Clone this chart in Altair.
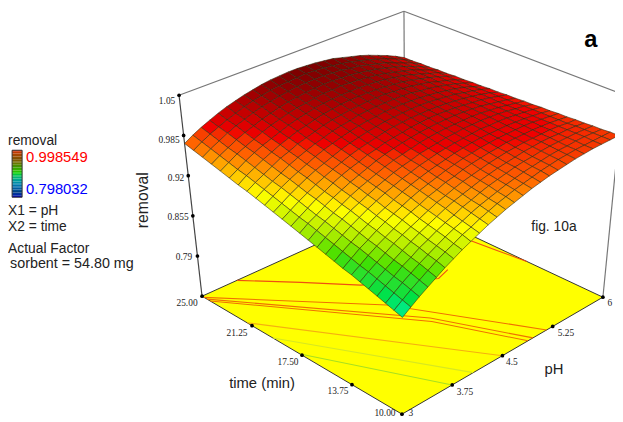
import altair as alt

# removal x 1000; rows = time 10 -> 25 min, columns = pH 3 -> 6
removal = [
 [874,883,892,900,908,916,923,930,936,942,948,953,958,962,966,970,973,976,978,980,982,983,984,984,984,984],
 [878,887,896,904,912,920,927,933,940,945,951,956,961,965,969,972,975,978,980,982,983,984,984,984,984,984],
 [882,891,900,908,916,923,930,937,943,948,954,959,963,967,971,974,977,979,981,983,984,984,985,985,984,983],
 [886,895,903,912,919,927,933,940,946,951,957,961,966,970,973,976,979,981,982,984,985,985,985,985,984,983],
 [890,899,907,915,923,930,937,943,949,955,960,964,968,972,975,978,980,982,984,985,986,986,985,985,984,982],
 [894,903,911,919,927,934,940,946,952,958,962,967,971,974,977,980,982,984,985,986,986,986,986,985,983,982],
 [898,906,915,923,930,937,944,950,955,961,965,970,973,977,980,982,984,985,987,987,987,987,986,985,983,981],
 [901,910,919,926,934,941,947,953,959,964,968,972,976,979,982,984,986,987,988,988,988,988,987,985,983,981],
 [905,914,922,930,937,944,950,956,962,967,971,975,978,981,984,986,988,989,989,989,989,988,987,985,983,980],
 [909,918,926,934,941,948,954,960,965,970,974,978,981,984,986,988,989,990,991,990,990,989,987,985,983,980],
 [913,922,930,938,945,951,957,963,968,973,977,980,984,986,988,990,991,992,992,992,991,990,988,985,983,979],
 [917,926,934,941,948,955,961,966,971,976,980,983,986,989,991,992,993,993,993,993,992,990,988,985,982,979],
 [921,930,937,945,952,958,964,969,974,979,983,986,989,991,993,994,995,995,995,994,993,991,988,985,982,978],
 [925,933,941,949,955,962,968,973,977,982,985,989,991,993,995,996,997,997,996,995,993,991,989,986,982,978],
 [929,937,945,952,959,965,971,976,981,985,988,991,994,996,997,998,998,998,997,996,994,992,989,986,982,977],
 [933,941,949,956,963,969,974,979,984,988,991,994,996,998,999,1000,1000,1000,999,997,995,993,989,986,982,977],
 [937,945,953,960,966,972,978,983,987,991,994,997,999,1000,1002,1002,1002,1001,1000,998,996,993,990,986,981,976],
 [941,949,956,963,970,976,981,986,990,994,997,999,1002,1003,1004,1004,1004,1003,1002,999,997,994,990,986,981,976],
 [945,953,960,967,974,979,985,989,993,997,1000,1002,1004,1005,1006,1006,1006,1004,1003,1001,998,995,990,986,981,975],
 [948,957,964,971,977,983,988,993,996,1000,1003,1005,1007,1008,1008,1008,1007,1006,1004,1002,999,995,991,986,981,975],
 [952,960,968,975,981,986,991,996,1000,1003,1006,1008,1009,1010,1010,1010,1009,1008,1006,1003,1000,996,991,986,981,974],
 [956,964,972,978,984,990,995,999,1003,1006,1008,1010,1012,1012,1013,1012,1011,1009,1007,1004,1000,996,992,986,980,974],
 [960,968,975,982,988,993,998,1002,1006,1009,1011,1013,1014,1015,1015,1014,1013,1011,1008,1005,1001,997,992,986,980,973],
 [964,972,979,986,992,997,1002,1006,1009,1012,1014,1016,1017,1017,1017,1016,1015,1012,1010,1006,1002,998,992,986,980,973],
 [968,976,983,989,995,1000,1005,1009,1012,1015,1017,1018,1019,1020,1019,1018,1016,1014,1011,1007,1003,998,993,987,980,972],
 [972,980,987,993,999,1004,1008,1012,1015,1018,1020,1021,1022,1022,1021,1020,1018,1016,1012,1008,1004,999,993,987,980,972],
]
W, H, PAD = 615, 414, 8
S = 623 / (W + 2 * PAD)   # page is photographed at the window's width
YOFF = 2.5
F = {"00": (402, 414), "10": (603, 297), "11": (405, 204), "01": (202, 296)}
T = {"00": (403, 203), "10": (623, 94), "11": (404, 11), "01": (179, 95)}
Z0, Z1 = 0.725, 1.05

def px(x, y):
    return [x / S - PAD, (y - YOFF) / S - PAD]

def bil(c, u, v):
    return [(1-u)*(1-v)*c["00"][k] + u*(1-v)*c["10"][k] + u*v*c["11"][k] + (1-u)*v*c["01"][k] for k in (0, 1)]

def proj(u, v, z=Z0):
    a, b = bil(F, u, v), bil(T, u, v)
    f = (z - Z0) / (Z1 - Z0)
    return px(a[0] + (b[0]-a[0])*f, a[1] + (b[1]-a[1])*f)

n_r, n_c = len(removal), len(removal[0])
cells = []
for j in range(n_r-2, -1, -1):
    for i in range(n_c-2, -1, -1):
        idx = [(i, j), (i+1, j), (i+1, j+1), (i, j+1), (i, j)]
        ring = [proj(a/(n_c-1), b/(n_r-1), removal[b][a]/1000) for a, b in idx]
        m = sum(removal[b][a] for a, b in idx[:4]) / 4000
        shade = m + 0.02 * (i+.5)/(n_c-1) * (j+.5)/(n_r-1)
        cells.append({"type": "Feature", "properties": {"z": shade}, "geometry": {"type": "Polygon", "coordinates": [ring]}})

identity = dict(type="identity", scale=1, translate=[0, 0])
surface = alt.Chart(alt.Data(values=cells)).mark_geoshape(stroke="#2a2a10", strokeWidth=0.7, strokeOpacity=0.8).encode(
    color=alt.Color("properties.z:Q", legend=None, scale=alt.Scale(
        domain=[.874, .89, .91, .93, .945, .96, .975, .99, 1.01, 1.03],
        range=["#00f0a0", "#00e040", "#40e000", "#c0f000", "#ffff00", "#ffb000", "#ff6000", "#f00000", "#b80000", "#800000"]))
).project(**identity)

floor_ring = [proj(*p) for p in [(0, 0), (1, 0), (1, 1), (0, 1), (0, 0)]]
floor = alt.Chart(alt.Data(values=[{"type": "Feature", "properties": {}, "geometry": {"type": "Polygon", "coordinates": [floor_ring]}}])).mark_geoshape(
    fill="#ffff00", stroke="#333333", strokeWidth=1).project(**identity)

contours = [
 ("a", "#a8e020", [(0, .51), (.25, 0)]),
 ("b", "#d8e820", [(0, .645), (.355, 0)]),
 ("c", "#f5b010", [(0, .775), (.5, 0)]),
 ("d", "#f07000", [(0, .99), (.45, .53), (.72, 0)]),
 ("e", "#f07000", [(0, .975), (.497, .36), (.652, 0)]),
 ("f", "#f07000", [(0, .96), (.485, .34), (.627, 0)]),
 ("g", "#f05010", [(.172, 1), (.335, .845), (.478, .69), (.706, .53), (.771, .55)]),
 ("h", "#f05010", [(.97, .65), (.985, .52), (1, .385)]),
]
c_rows = []
for name, col, pts in contours:
    for k, (u, v) in enumerate(pts):
        x, y = proj(u, v)
        c_rows.append({"n": name, "c": col, "k": k, "x": x, "y": y})
cline = alt.Chart(alt.Data(values=c_rows)).mark_line(strokeWidth=1.1).encode(
    x=alt.X("x:Q", scale=None, axis=None), y=alt.Y("y:Q", scale=None, axis=None),
    detail="n:N", order="k:Q", stroke=alt.Stroke("c:N", scale=None))

frame_def = [
 ("l", (0, 1, Z1), (0, 1, Z0), "#444444"), ("t1", (0, 1, Z1), (1, 1, Z1), "#777777"),
 ("t2", (1, 1, Z1), (1, 0, Z1), "#777777"), ("r", (1, 0, Z1), (1, 0, Z0), "#777777"),
 ("b", (1, 1, Z1), (1, 1, Z0), "#777777"),
]
f_rows = []
for name, p, q, col in frame_def:
    for k, a in enumerate((p, q)):
        x, y = proj(*a)
        f_rows.append({"n": name, "c": col, "k": k, "x": x, "y": y})
frame = alt.Chart(alt.Data(values=f_rows)).mark_line(strokeWidth=1.2).encode(
    x=alt.X("x:Q", scale=None, axis=None), y=alt.Y("y:Q", scale=None, axis=None),
    detail="n:N", order="k:Q", stroke=alt.Stroke("c:N", scale=None))

z_ticks = [1.05, .985, .92, .855, .79]
time_ticks = [25.00, 21.25, 17.50, 13.75, 10.00]
ph_ticks = [3.75, 4.5, 5.25, 6]
dots = [proj(0, 1, z) for z in z_ticks] + [proj(0, (t-10)/15) for t in time_ticks] + [proj((p-3)/3, 0) for p in ph_ticks]
dot = alt.Chart(alt.Data(values=[{"x": a, "y": b} for a, b in dots])).mark_circle(size=14, color="black", opacity=1).encode(
    x=alt.X("x:Q", scale=None, axis=None), y=alt.Y("y:Q", scale=None, axis=None))

def text_layer(rows, **kw):
    data = []
    for t, x, y in rows:
        a, b = px(x, y)
        data.append({"t": t, "x": a, "y": b})
    return alt.Chart(alt.Data(values=data)).mark_text(**kw).encode(
        x=alt.X("x:Q", scale=None, axis=None), y=alt.Y("y:Q", scale=None, axis=None), text="t:N")

tick_labels = text_layer([
 ("1.05", 167, 101), ("0.985", 169, 140), ("0.92", 176, 178), ("0.855", 178, 217), ("0.79", 184, 257),
 ("25.00", 187, 303), ("21.25", 237, 333), ("17.50", 288, 362), ("13.75", 338, 391), ("10.00", 385, 413),
 ("3", 411, 413), ("3.75", 465, 392), ("4.5", 512, 362), ("5.25", 566, 333), ("6", 610, 303),
], font="Liberation Serif", fontSize=9.5, color="#222222", align="center", baseline="middle")

sans = dict(font="Liberation Sans", color="#222222", baseline="middle")
axis_titles = text_layer([("time (min)", 262, 383), ("pH", 554, 369)], fontSize=15, align="center", **sans)
ztitle = text_layer([("removal", 143, 200)], fontSize=16, align="center", angle=270, **sans)
fig = text_layer([("fig. 10a", 554, 227)], fontSize=14, align="center", **sans)
letter = text_layer([("a", 591, 40)], fontSize=24, fontWeight="bold", align="center", font="Liberation Sans", color="black", baseline="middle")
legend_txt = text_layer([("removal", 8, 141), ("X1 =  pH", 8, 211), ("X2 =  time", 8, 227), ("Actual Factor", 8, 249)], fontSize=14, align="left", **sans)
legend_txt2 = text_layer([("sorbent = 54.80 mg", 10, 264)], fontSize=14.5, align="left", **sans)
hi = text_layer([("0.998549", 26, 157)], fontSize=15, align="left", font="Liberation Sans", color="#ff0000", baseline="middle")
lo = text_layer([("0.798032", 26, 189)], fontSize=15, align="left", font="Liberation Sans", color="#0000ff", baseline="middle")

# colour bar
bar_vals = [round(i/30, 4) for i in range(30)]
(bx0, by1), (bx1, by0) = px(12, 197), px(22, 150)
bar_rows = [{"v": v, "x": bx0, "x2": bx1, "y": by1 + (by0-by1)*v, "y2": by1 + (by0-by1)*(v+1/30)} for v in bar_vals]
bar = alt.Chart(alt.Data(values=bar_rows)).mark_rect().encode(
    x=alt.X("x:Q", scale=None, axis=None), x2="x2:Q", y=alt.Y("y:Q", scale=None, axis=None), y2="y2:Q",
    color=alt.Color("v:Q", legend=None, scale=alt.Scale(domain=[0, .1, .5, .65, .8, 1], range=["#0000b0", "#004080", "#00d000", "#409000", "#805000", "#e00000"])))
bar_box = alt.Chart(alt.Data(values=[{"x": bx0, "x2": bx1, "y": by1, "y2": by0}])).mark_rect(fill="transparent", stroke="#333333", strokeWidth=1).encode(
    x=alt.X("x:Q", scale=None, axis=None), x2="x2:Q", y=alt.Y("y:Q", scale=None, axis=None), y2="y2:Q")

chart = alt.layer(frame, floor, cline, dot, surface, tick_labels, axis_titles, ztitle, fig, letter, legend_txt, legend_txt2, hi, lo, bar, bar_box).resolve_scale(color="independent").properties(
    width=W, height=H, padding=0, autosize="none"
).configure_view(stroke=None)
chart.save("out.html", embed_options={"renderer": "svg", "actions": False})
